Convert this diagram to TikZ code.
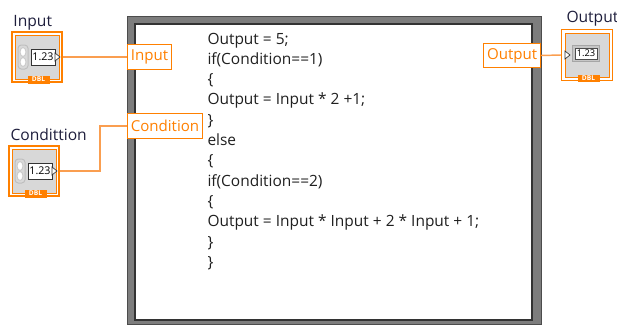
\documentclass[tikz,border=0pt]{standalone}
\usepackage{fontspec}
\setmainfont{Open Sans}
\usetikzlibrary{positioning}

\definecolor{lvorange}{RGB}{255,128,0}
\definecolor{wireorange}{RGB}{250,158,80}
\definecolor{capblue}{RGB}{30,30,60}
\definecolor{codegray}{RGB}{32,32,32}
\definecolor{panelgray}{RGB}{216,216,216}
\definecolor{framegray}{RGB}{125,125,125}

\tikzset{every picture/.style={line width=0.75pt}}
\tikzset{
  lbl/.style={draw=lvorange, fill=white, text=lvorange, inner xsep=2.5pt, inner ysep=0pt,
    minimum height=18.5pt, font=\fontsize{11.3}{13}\selectfont},
  wire/.style={draw=wireorange, line width=1.1pt},
  captxt/.style={anchor=base west, inner sep=0pt, text=capblue, font=\fontsize{11.7}{14}\selectfont},
  code/.style={anchor=base west, inner sep=0pt, text=codegray, font=\fontsize{11.6}{15}\selectfont},
  ctrlbox/.style={draw=lvorange, fill=white, line width=1.6pt, minimum size=37.5pt, inner sep=0pt},
  indbox/.style={draw=lvorange, fill=white, line width=1pt, minimum size=38.25pt, inner sep=0pt},
  dbltab/.style={fill=lvorange, draw=lvorange, line width=0.5pt},
}

% body of a DBL control, drawn round the centre of its box
\newcommand{\dblctrl}[1]{%
  \begin{scope}[shift={(#1.center)}]
    \draw [draw=lvorange, fill=panelgray] (-22,-22) rectangle (22,22);
    \draw [draw=gray!50, fill=gray!30, rounded corners=2.5pt] (-19,-12) rectangle (-9,12);
    \draw [draw=gray!40, fill=white] (-14,-5) ellipse (3 and 4.5);
    \draw [draw=gray!40, fill=white] (-14,5) ellipse (3 and 4.5);
    \draw [draw=black!80, fill=white] (-6,-8) rectangle (18,8);
    \draw (6,0) node [inner sep=0pt, font=\fontsize{8}{8}\selectfont] {1.23};
    \draw [draw=black!80, fill=white, line width=0.5pt] (18,-4) -- (23,0) -- (18,4) -- cycle;
    \draw [dbltab] (-9,19) rectangle (12,26);
    \draw (1.5,22.5) node [inner sep=0pt, text=white, font=\fontsize{5}{5}\selectfont\bfseries] {DBL};
  \end{scope}}

\begin{document}
\begin{tikzpicture}[x=0.75pt,y=0.75pt,yscale=-1,xscale=1]
\useasboundingbox (0,0) rectangle (617,325);

%frame of the formula node
\draw [draw=black!70, fill=framegray] (127,16) rectangle (541,324);
\draw [draw=black!80, fill=white, line width=1pt] (135,24) rectangle (532,320);

%code
\foreach \txt [count=\i] in {Output = 5;, if(Condition==1), {\{}, Output = Input * 2 +1;, {\}}, else, {\{},
    if(Condition==2), {\{}, Output = Input * Input + 2 * Input + 1;, {\}}, {\}}}
  \node [code] (code\i) at (207,{44+20.3*(\i-1)}) {\txt};

%controls and indicator
\node [ctrlbox] (inctl) at (37,57) {};
\dblctrl{inctl}
\node [ctrlbox] (cctl) at (34,171) {};
\dblctrl{cctl}

\node [indbox] (outind) at (587,55) {};
\begin{scope}[shift={(outind.center)}]
  \draw [draw=lvorange, fill=panelgray] (-22,-22) rectangle (22,22);
  \draw [draw=gray!70, fill=gray!45] (-15,-10) rectangle (12,6);
  \draw [draw=black!70, fill=white] (-12,-7) rectangle (10,4);
  \draw (-1,-1.5) node [inner sep=0pt, font=\fontsize{7}{7}\selectfont] {1.23};
  \draw [draw=black!80, fill=white, line width=0.5pt] (-22,-4) -- (-17,0) -- (-22,4) -- cycle;
  \draw [dbltab] (-9,20) rectangle (12,26);
  \draw (1.5,23) node [inner sep=0pt, text=white, font=\fontsize{5}{5}\selectfont\bfseries] {DBL};
\end{scope}

%captions
\node [captxt] (incap) at (13,26) {Input};
\node [captxt] (ccap) at (10,140) {Condittion};
\node [captxt] (outcap) at (566,22) {Output};

%terminals
\node [lbl, anchor=west] (inlbl) at (127,57) {Input};
\node [lbl, anchor=west] (clbl) at (127,126) {Condition};
\node [lbl, anchor=east] (outlbl) at (541,55.5) {Output};

%wires
\draw [wire] (inctl.east) -- (inlbl.west);
\draw [wire] (cctl.east) -- ++(40,0) |- (clbl.west);
\draw [wire] (outlbl.east) -- (outind.west);

\end{tikzpicture}
\end{document}
